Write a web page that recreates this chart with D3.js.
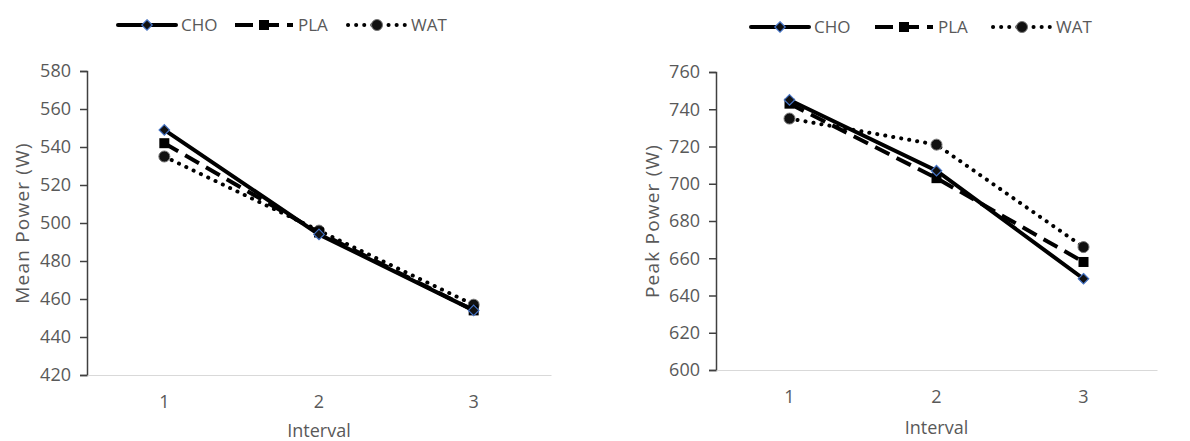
<!DOCTYPE html>
<html>
<head>
<meta charset="utf-8">
<script src="https://cdn.jsdelivr.net/npm/d3@7"></script>
<style>
  body { margin: 0; background: #fff; }
  text { font-family: "Open Sans", sans-serif; fill: #595959; }
</style>
</head>
<body>
<div class="canva"></div>
<script>
// data
const intervals = ["1", "2", "3"];
const seriesNames = ["CHO", "PLA", "WAT"];

const meanCHO = [549, 494, 454];
const meanPLA = [542, 495, 454];
const meanWAT = [535, 496, 457];

const peakCHO = [745, 707, 649];
const peakPLA = [743, 703, 658];
const peakWAT = [735, 721, 666];

const meanTicks = [420, 440, 460, 480, 500, 520, 540, 560, 580];
const peakTicks = [600, 620, 640, 660, 680, 700, 720, 740, 760];

const svg = d3.select(".canva")
	.append("svg")
	.attr("width", 1190)
	.attr("height", 441);

// line style per series
const styles = {
	CHO: { dash: null, cap: "round", marker: "diamond" },
	PLA: { dash: "16 8", cap: "butt", marker: "square" },
	WAT: { dash: "0.1 8", cap: "round", marker: "circle" }
};

function drawMarker(g, type, x, y) {
	if (type === "diamond") {
		g.append("path")
			.attr("d", d3.symbol(d3.symbolDiamond2, 70)())
			.attr("transform", `translate(${x},${y})`)
			.attr("fill", "#111")
			.attr("stroke", "#4472c4")
			.attr("stroke-width", 1.2);
	} else if (type === "square") {
		g.append("rect")
			.attr("x", x - 5).attr("y", y - 5)
			.attr("width", 10).attr("height", 10)
			.attr("fill", "#000");
	} else {
		g.append("circle")
			.attr("cx", x).attr("cy", y).attr("r", 5.5)
			.attr("fill", "#111")
			.attr("stroke", "#777")
			.attr("stroke-width", 1);
	}
}

function legend(g, x0, y, gaps) {
	let x = x0;
	seriesNames.forEach((name, i) => {
		const s = styles[name];
		g.append("line")
			.attr("x1", x).attr("x2", x + 58)
			.attr("y1", y).attr("y2", y)
			.attr("stroke", "#000")
			.attr("stroke-width", 4)
			.attr("stroke-linecap", s.cap)
			.attr("stroke-dasharray", name === "PLA" ? "18 8" : s.dash);
		drawMarker(g, s.marker, x + 29, y);
		g.append("text")
			.attr("x", x + 63)
			.attr("y", y)
			.attr("dy", "0.36em")
			.attr("font-size", 17)
			.text(name);
		x += gaps[i];
	});
}

function chart(opts) {
	const g = svg.append("g");

	const x = d3.scaleBand()
		.domain(intervals)
		.range([opts.left, opts.right]);

	const y = d3.scaleLinear()
		.domain([opts.ticks[0], opts.ticks[opts.ticks.length - 1]])
		.range([opts.bottom, opts.top]);

	// y axis
	const yAxis = g.append("g")
		.attr("transform", `translate(${opts.left},0)`)
		.call(d3.axisLeft(y).tickValues(opts.ticks).tickSize(7).tickPadding(9));
	yAxis.select(".domain").attr("stroke", "#404040").attr("stroke-width", 1.5);
	yAxis.selectAll(".tick line").attr("stroke", "#404040").attr("stroke-width", 1.5);
	yAxis.selectAll("text")
		.attr("font-size", 18)
		.attr("fill", "#595959")
		.style("font-family", "'Open Sans', sans-serif");

	// x axis
	const xAxis = g.append("g")
		.attr("transform", `translate(0,${opts.bottom})`)
		.call(d3.axisBottom(x).tickSize(0).tickPadding(20));
	xAxis.select(".domain").attr("stroke", "#d9d9d9").attr("stroke-width", 1.2);
	xAxis.selectAll("text")
		.attr("font-size", 18)
		.attr("fill", "#595959")
		.style("font-family", "'Open Sans', sans-serif");

	g.append("text")
		.attr("x", (opts.left + opts.right) / 2)
		.attr("y", opts.titleY)
		.attr("text-anchor", "middle")
		.attr("font-size", 18)
		.text("Interval");

	g.append("text")
		.attr("transform", `translate(${opts.ylabelX},${(opts.top + opts.bottom) / 2}) rotate(-90)`)
		.attr("text-anchor", "middle")
		.attr("dy", "0.35em")
		.attr("font-size", 19)
		.attr("letter-spacing", 1.2)
		.text(opts.ylabel);

	const cx = (d) => x(d) + x.bandwidth() / 2;
	const line = d3.line()
		.x((d) => cx(d.k))
		.y((d) => y(d.v));

	// draw WAT, PLA, then CHO on top
	["WAT", "PLA", "CHO"].forEach((name) => {
		const vals = opts.data[name];
		const pts = intervals.map((k, i) => ({ k: k, v: vals[i] }));
		const s = styles[name];
		g.append("path")
			.datum(pts)
			.attr("d", line)
			.attr("fill", "none")
			.attr("stroke", "#000")
			.attr("stroke-width", 4)
			.attr("stroke-linecap", s.cap)
			.attr("stroke-dasharray", s.dash);
		pts.forEach((p) => drawMarker(g, s.marker, cx(p.k), y(p.v)));
	});

	legend(g, opts.legendX, opts.legendY, opts.legendGaps);
}

chart({
	left: 87, right: 551, top: 71, bottom: 375,
	ticks: meanTicks,
	ylabel: "Mean Power (W)", ylabelX: 22, titleY: 437,
	data: { CHO: meanCHO, PLA: meanPLA, WAT: meanWAT },
	legendX: 118, legendY: 25, legendGaps: [117, 113]
});

chart({
	left: 716, right: 1157, top: 72, bottom: 370,
	ticks: peakTicks,
	ylabel: "Peak Power (W)", ylabelX: 652, titleY: 434,
	data: { CHO: peakCHO, PLA: peakPLA, WAT: peakWAT },
	legendX: 751, legendY: 27, legendGaps: [124, 118]
});
</script>
</body>
</html>
